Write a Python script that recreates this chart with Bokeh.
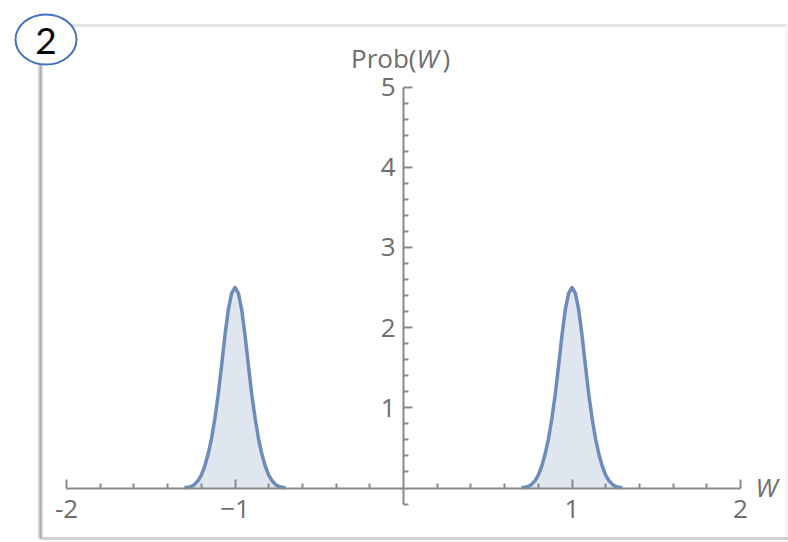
from bokeh.plotting import figure
from bokeh.models import Range1d, LinearAxis, FixedTicker
from bokeh.core.properties import value
from bokeh.embed import file_html
from bokeh.resources import INLINE

# ---- data ----
w_left = [-1.30, -1.28, -1.26, -1.24, -1.22, -1.20, -1.18, -1.16, -1.14, -1.12, -1.10,
          -1.08, -1.06, -1.04, -1.02, -1.00, -0.98, -0.96, -0.94, -0.92, -0.90,
          -0.88, -0.86, -0.84, -0.82, -0.80, -0.78, -0.76, -0.74, -0.72, -0.70]
prob_left = [0.003, 0.008, 0.020, 0.045, 0.090, 0.16, 0.27, 0.42, 0.61, 0.86, 1.16,
             1.52, 1.90, 2.22, 2.43, 2.50, 2.43, 2.22, 1.90, 1.52, 1.16,
             0.86, 0.61, 0.42, 0.27, 0.16, 0.090, 0.045, 0.020, 0.008, 0.003]
w_right = [0.70, 0.72, 0.74, 0.76, 0.78, 0.80, 0.82, 0.84, 0.86, 0.88, 0.90,
           0.92, 0.94, 0.96, 0.98, 1.00, 1.02, 1.04, 1.06, 1.08, 1.10,
           1.12, 1.14, 1.16, 1.18, 1.20, 1.22, 1.24, 1.26, 1.28, 1.30]
prob_right = [0.003, 0.008, 0.020, 0.045, 0.090, 0.16, 0.27, 0.42, 0.61, 0.86, 1.16,
              1.52, 1.90, 2.22, 2.43, 2.50, 2.43, 2.22, 1.90, 1.52, 1.16,
              0.86, 0.61, 0.42, 0.27, 0.16, 0.090, 0.045, 0.020, 0.008, 0.003]

x_major = [-2, -1, 1, 2]
x_labels = {-2: "-2", -1: "\u22121", 1: "1", 2: "2"}
y_major = [1, 2, 3, 4, 5]
y_labels = {1: "1", 2: "2", 3: "3", 4: "4", 5: "5"}
x_minor = [-1.8, -1.6, -1.4, -1.2, -0.8, -0.6, -0.4, -0.2, 0.2, 0.4, 0.6, 0.8, 1.2, 1.4, 1.6, 1.8]
y_minor = [-0.2, 0.2, 0.4, 0.6, 0.8, 1.2, 1.4, 1.6, 1.8, 2.2, 2.4, 2.6, 2.8,
           3.2, 3.4, 3.6, 3.8, 4.2, 4.4, 4.6, 4.8]

# ---- layout: pixel <-> data mapping ----
W, H = 788, 542
X0, SX = 403.0, 168.5   # pixel of w=0, px per unit
Y0, SY = 487.5, 80.2    # pixel of prob=0, px per unit


def dx(px):
    return (px - X0) / SX


def dy(py):
    return (Y0 - py) / SY


p = figure(width=W, height=H, output_backend="svg", toolbar_location=None,
           x_range=Range1d(dx(0), dx(W)), y_range=Range1d(dy(H), dy(0)),
           x_axis_type=None, y_axis_type=None, min_border=0)
p.outline_line_color = None
p.grid.visible = False
p.background_fill_color = "white"
p.border_fill_color = "white"

FONT = "Open Sans"
TICK_COLOR = "#6e6e6e"
AXIS_COLOR = "#8a8a8a"
CURVE = "#5e81b5"

# notebook frame
p.line([dx(40), dx(786)], [dy(25), dy(25)], line_color="#e4e4e4", line_width=3)
p.line([dx(786), dx(786)], [dy(25), dy(538)], line_color="#f2f2f2", line_width=2)
p.line([dx(40), dx(788)], [dy(538), dy(538)], line_color="#d0d0d0", line_width=3)
p.line([dx(40), dx(40)], [dy(25), dy(538)], line_color="#d6d6d6", line_width=5)
p.line([dx(40), dx(40)], [dy(25), dy(538)], line_color="#a8a8a8", line_width=1.5)

# circled number
p.ellipse(x=dx(45.5), y=dy(39), width=61 / SX, height=50 / SY,
          fill_color="white", line_color="#4472c4", line_width=2)
p.text(x=[dx(45.5)], y=[dy(40)], text=["2"], text_font=value("Lato"),
       text_font_size="37px", text_color="black", text_align="center",
       text_baseline="middle")

# filled peaks
p.varea(x=w_left, y1=0, y2=prob_left, fill_color=CURVE, fill_alpha=0.2)
p.varea(x=w_right, y1=0, y2=prob_right, fill_color=CURVE, fill_alpha=0.2)
p.line(w_left, prob_left, line_color=CURVE, line_width=3.5, line_alpha=0.9,
       line_join="round")
p.line(w_right, prob_right, line_color=CURVE, line_width=3.5, line_alpha=0.9,
       line_join="round")

# axes through the origin
xaxis = LinearAxis(fixed_location=0, bounds=(-2, 2),
                   ticker=FixedTicker(ticks=x_major, minor_ticks=x_minor),
                   major_label_overrides=x_labels)
yaxis = LinearAxis(fixed_location=0, bounds=(-0.2, 5),
                   ticker=FixedTicker(ticks=y_major, minor_ticks=y_minor),
                   major_label_overrides=y_labels)
for ax in (xaxis, yaxis):
    ax.axis_line_color = AXIS_COLOR
    ax.axis_line_width = 2
    ax.major_tick_line_color = AXIS_COLOR
    ax.major_tick_line_width = 2
    ax.minor_tick_line_color = AXIS_COLOR
    ax.minor_tick_line_width = 2
    ax.major_tick_in = 9
    ax.major_tick_out = 0
    ax.minor_tick_in = 5
    ax.minor_tick_out = 0
    ax.major_label_text_font = FONT
    ax.major_label_text_font_size = "26px"
    ax.major_label_text_color = TICK_COLOR
xaxis.major_label_standoff = 12
yaxis.major_label_standoff = 8
p.add_layout(xaxis, "below")
p.add_layout(yaxis, "left")

# axis labels
LBL_Y = 57
p.text(x=[dx(416)], y=[dy(LBL_Y)], text=["Prob("], text_font=value(FONT),
       text_font_size="26px", text_color=TICK_COLOR, text_align="right",
       text_baseline="middle")
p.text(x=[dx(416)], y=[dy(LBL_Y)], text=["W"], text_font=value(FONT),
       text_font_size="26px", text_font_style="italic", text_color=TICK_COLOR,
       text_align="left", text_baseline="middle")
p.text(x=[dx(442)], y=[dy(LBL_Y)], text=[")"], text_font=value(FONT),
       text_font_size="26px", text_color=TICK_COLOR, text_align="left",
       text_baseline="middle")
p.text(x=[dx(755)], y=[dy(486)], text=["W"], text_font=value(FONT),
       text_font_size="26px", text_font_style="italic", text_color=TICK_COLOR,
       text_align="left", text_baseline="middle")

open("out.html", "w").write(file_html(p, INLINE))
